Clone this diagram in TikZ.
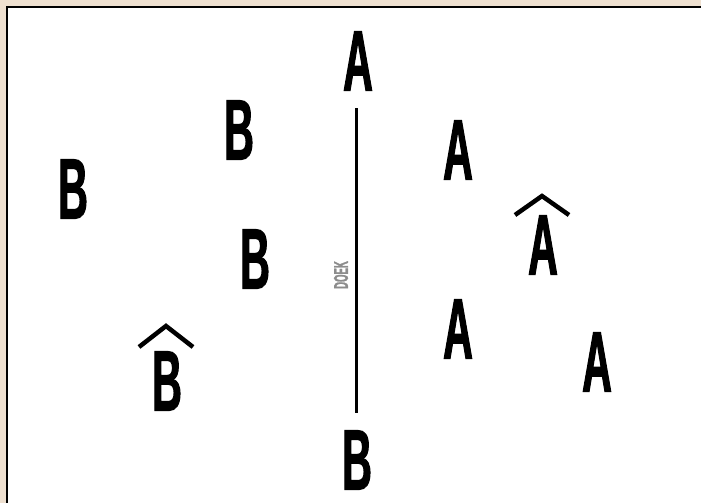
\documentclass[tikz,border=0pt]{standalone}
\usepackage{fontspec}
\newfontfamily\condfont[FakeStretch=0.48,FakeBold=1.2]{Liberation Sans}
\definecolor{frameback}{RGB}{238,224,208}
\definecolor{labelgray}{RGB}{140,140,140}
\begin{document}
\begin{tikzpicture}[x=1pt,y=1pt,
  letter/.style={inner sep=0pt, font=\condfont\bfseries\fontsize{86}{86}\selectfont},
  hat/.style={line width=4.5pt, line join=miter},
  doek/.style={inner sep=0pt, text=labelgray, font=\condfont\bfseries\fontsize{20}{20}\selectfont, rotate=90}]
\useasboundingbox (0,0) rectangle (701,-503);
\fill[frameback] (0,0) rectangle (701,-503);
\draw[fill=white, line width=2.5pt] (7,-7) rectangle (720,-520);
% central line
\node[letter] (topA) at (358,-61) {A};
\node[letter] (botB) at (357,-460) {B};
\coordinate (lineTop) at (356,-108);
\coordinate (lineBot) at (356,-413);
\draw[line width=3pt] (lineTop) -- (lineBot);
\node[doek] (doek) at (341,-275) {DOEK};
% left side
\node[letter] (b1) at (239,-130) {B};
\node[letter] (b2) at (73,-189) {B};
\node[letter] (b3) at (255,-259) {B};
\node[letter] (b4) at (167,-381) {B};
\coordinate (h1l) at (139,-347);
\coordinate (h1t) at (166,-326);
\coordinate (h1r) at (193,-347);
\draw[hat] (h1l) -- (h1t) -- (h1r);
% right side
\node[letter] (a1) at (458,-150) {A};
\node[letter] (a2) at (543,-245) {A};
\coordinate (h2l) at (515,-215);
\coordinate (h2t) at (542,-196);
\coordinate (h2r) at (569,-215);
\draw[hat] (h2l) -- (h2t) -- (h2r);
\node[letter] (a3) at (458,-329) {A};
\node[letter] (a4) at (597,-362) {A};
\end{tikzpicture}
\end{document}
